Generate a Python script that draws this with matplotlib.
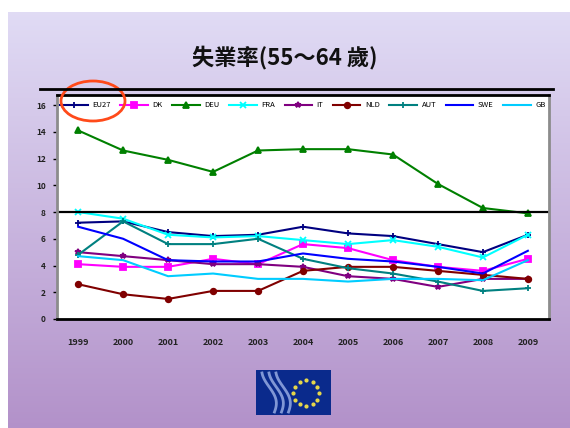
import numpy as np
import matplotlib
matplotlib.use('Agg')
import matplotlib.pyplot as plt
from matplotlib.patches import Ellipse, Rectangle
from matplotlib.lines import Line2D

plt.rcParams['font.family'] = ['Noto Sans CJK TC', 'DejaVu Sans']

years = ['1999', '2000', '2001', '2002', '2003', '2004', '2005', '2006', '2007', '2008', '2009']

# 55-64 歲失業率 (%)
eu27 = [7.2, 7.3, 6.5, 6.2, 6.3, 6.9, 6.4, 6.2, 5.6, 5.0, 6.3]
dk = [4.1, 3.9, 3.9, 4.5, 4.1, 5.6, 5.3, 4.4, 3.9, 3.6, 4.5]
deu = [14.1, 12.6, 11.9, 11.0, 12.6, 12.7, 12.7, 12.3, 10.1, 8.3, 7.9]
fra = [8.0, 7.5, 6.3, 6.1, 6.2, 5.9, 5.6, 5.9, 5.4, 4.6, 6.3]
ita = [5.0, 4.7, 4.4, 4.1, 4.1, 3.9, 3.2, 3.0, 2.4, 3.0, 3.0]
nld = [2.6, 1.85, 1.5, 2.1, 2.1, 3.6, 3.9, 3.9, 3.6, 3.3, 3.0]
aut = [4.8, 7.3, 5.6, 5.6, 6.0, 4.5, 3.8, 3.4, 2.8, 2.1, 2.3]
swe = [6.9, 6.0, 4.4, 4.3, 4.3, 4.9, 4.5, 4.3, 3.9, 3.4, 5.1]
gb = [4.7, 4.4, 3.2, 3.4, 3.0, 3.0, 2.8, 3.0, 3.0, 2.9, 4.4]

names = ['EU27', 'DK', 'DEU', 'FRA', 'IT', 'NLD', 'AUT', 'SWE', 'GB']
series = [eu27, dk, deu, fra, ita, nld, aut, swe, gb]
colors = ['#000080', '#ff00ff', '#008000', '#00ffff', '#800080',
          '#800000', '#008080', '#0000ff', '#00ccff']
markers = ['+', 's', '^', 'x', '*', 'o', '+', '', '']

W, H = 570, 428
fig = plt.figure(figsize=(W / 100, H / 100), dpi=100)
fig.patch.set_facecolor('white')

def fx(px):
    return px / W

def fy(py):
    return 1 - py / H

# lavender slide background
bg = fig.add_axes([fx(8), 0, 1 - fx(8), fy(12)], zorder=-10)
grad = np.linspace(0, 1, 256)[:, None]
top = np.array([0.88, 0.86, 0.96])
bottom = np.array([0.70, 0.57, 0.79])
img = top[None, None, :] * (1 - grad[..., None]) + bottom[None, None, :] * grad[..., None]
bg.imshow(img, aspect='auto', extent=[0, 1, 0, 1])
bg.axis('off')

fig.text(0.5, fy(57), '失業率(55～64 歲)', ha='center', va='center',
         fontsize=16, fontweight='bold', color='#111111')

ax = fig.add_axes([fx(57), fy(319), fx(549 - 57), (319 - 95) / H])
ax.set_facecolor('white')
x = np.arange(len(years))
for vals, name, c, m in zip(series, names, colors, markers):
    ax.plot(x, vals, color=c, lw=1.5, marker=m, markersize=4,
            markeredgewidth=1.3, label=name)

ax.axhline(8, color='black', lw=1.6)
ax.set_xlim(-0.47, len(years) - 1 + 0.47)
ax.set_ylim(0, 16.75)
ax.set_yticks(np.arange(0, 17, 2))
ax.set_yticklabels([str(v) for v in range(0, 17, 2)], fontsize=6,
                   fontweight='bold', color='#222222')
ax.set_xticks(x)
ax.set_xticklabels(years, fontsize=6.5, fontweight='bold', color='#222222')
ax.tick_params(axis='y', length=3, width=1, color='black', pad=5)
ax.tick_params(axis='x', length=0, pad=14)
for s in ['top', 'bottom']:
    ax.spines[s].set_color('black')
    ax.spines[s].set_linewidth(2)
for s in ['left', 'right']:
    ax.spines[s].set_color('#8c8c8c')
    ax.spines[s].set_linewidth(2)

leg = ax.legend(loc='upper center', bbox_to_anchor=(0.5, 0.995), ncol=9,
                fontsize=5.5, frameon=True, handlelength=3.6,
                handletextpad=0.6, columnspacing=1.25, borderpad=0.2,
                numpoints=1)
leg.get_frame().set_facecolor('white')
leg.get_frame().set_edgecolor('none')
leg.get_frame().set_alpha(1)

# frame line above the chart
fig.add_artist(Line2D([fx(40), fx(553)], [fy(89), fy(89)], color='black', lw=2))

# highlight around the EU27 legend entry
fig.add_artist(Ellipse((fx(93), fy(101)), fx(64), 40 / H, fill=False,
                       edgecolor='#ff4a1a', lw=2))

# logo
logo = fig.add_axes([fx(256), fy(415), fx(75), 45 / H])
logo.set_xlim(0, 75)
logo.set_ylim(0, 45)
logo.add_patch(Rectangle((0, 0), 75, 45, color='#0a2a8c'))
t = np.linspace(0, 2 * np.pi, 12, endpoint=False)
logo.scatter(50 + 13 * np.cos(t), 22 + 13 * np.sin(t), s=4, color='#e8d84a')
for k, off in enumerate([0, 7, 14]):
    yy = np.linspace(3, 42, 30)
    logo.plot(14 + off + 5 * np.sin(yy / 9) - (yy - 22) * 0.15, yy,
              color='#9fb3e8', lw=2, alpha=0.8)
logo.axis('off')

fig.savefig('out.png', dpi=100, facecolor=fig.get_facecolor())
